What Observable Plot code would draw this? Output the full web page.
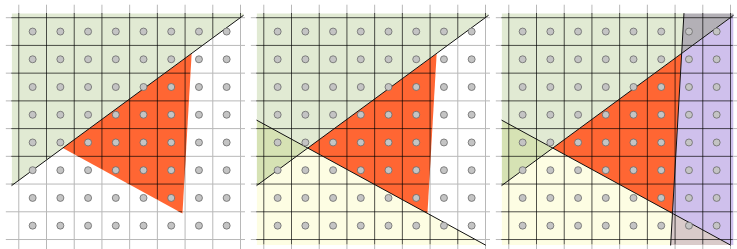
<!DOCTYPE html>
<html>
<head>
<meta charset="utf-8">
<script src="https://cdn.jsdelivr.net/npm/d3@7"></script>
<script src="https://cdn.jsdelivr.net/npm/@observablehq/plot@0.6"></script>
<style>
  body { margin: 0; background: #fff; }
  #row { display: flex; flex-direction: row; width: 737px; height: 249px; overflow: hidden; }
  #row svg { display: block; }
</style>
</head>
<body>
<div id="row"></div>
<script>
// grid line positions and point centres (data units)
const gridTicks = [0, 1, 2, 3, 4, 5, 6, 7, 8];
const pointCenters = [0.5, 1.5, 2.5, 3.5, 4.5, 5.5, 6.5, 7.5];
const gridExtent = [-0.45, 8.45];
// shaded box that the half-planes fill
const boxX = [-0.25, 8.1];
const boxY = [-0.2, 8.15];
// the three boundary lines (two points each)
const lineA = [[-0.25, 1.95], [8.1, 8.08]];
const lineB = [[-0.25, 4.30], [8.0, -0.20]];
const lineC = [[5.84, -0.20], [6.32, 8.15]];
// region colours
const colorG = "#e1ead3";
const colorY = "#fdfde3";
const colorGY = "#d6e2b4";
const colorP = "#cfc0ec";
const colorGP = "#b3b0b6";
const colorYP = "#d9cbca";
const colorRed = "#ff6633";
// panels: which lines are drawn, which cells are filled (constraints: +1 above/left, -1 below/right)
const panel1Lines = ["A"];
const panel1Cells = [[colorG, {A: 1}], [colorRed, {A: -1, B: 1, C: 1}]];
const panel2Lines = ["A", "B"];
const panel2Cells = [[colorG, {A: 1, B: 1}], [colorGY, {A: 1, B: -1}], [colorY, {A: -1, B: -1}], [colorRed, {A: -1, B: 1, C: 1}]];
const panel3Lines = ["A", "B", "C"];
const panel3Cells = [[colorG, {A: 1, B: 1, C: 1}], [colorGY, {A: 1, B: -1}], [colorY, {A: -1, B: -1, C: 1}],
  [colorP, {A: -1, B: 1, C: -1}], [colorGP, {A: 1, C: -1}], [colorYP, {B: -1, C: -1}], [colorRed, {A: -1, B: 1, C: 1}]];

const lines = {A: lineA, B: lineB, C: lineC};
const panels = [
  {lines: panel1Lines, cells: panel1Cells, width: 245},
  {lines: panel2Lines, cells: panel2Cells, width: 245},
  {lines: panel3Lines, cells: panel3Cells, width: 247}
];

function clipHalf(poly, seg, s) {
  const [p1, p2] = seg;
  const f = p => s * ((p2[0] - p1[0]) * (p[1] - p1[1]) - (p2[1] - p1[1]) * (p[0] - p1[0]));
  const out = [];
  const n = poly.length;
  for (let i = 0; i < n; i++) {
    const cur = poly[i], prev = poly[(i + n - 1) % n];
    const fc = f(cur), fp = f(prev);
    const inter = () => {
      const t = fp / (fp - fc);
      return [prev[0] + (cur[0] - prev[0]) * t, prev[1] + (cur[1] - prev[1]) * t];
    };
    if (fc >= 0) {
      if (fp < 0) out.push(inter());
      out.push(cur);
    } else if (fp >= 0) out.push(inter());
  }
  return out;
}
function cellPolygon(constraints) {
  let poly = [[boxX[0], boxY[0]], [boxX[1], boxY[0]], [boxX[1], boxY[1]], [boxX[0], boxY[1]]];
  for (const [k, s] of Object.entries(constraints)) poly = clipHalf(poly, lines[k], s);
  return poly;
}

const points = pointCenters.flatMap(x => pointCenters.map(y => ({x, y})));
const row = document.getElementById("row");

panels.forEach((panel, i) => {
  const width = panel.width;
  const xDomain = [-0.66, -0.66 + 8.84 * width / 245];
  const polys = panel.cells.map(([color, cons]) => ({color, poly: cellPolygon(cons)}));
  const marks = [
    Plot.ruleX(gridTicks, {x: d => d, y1: gridExtent[0], y2: gridExtent[1], stroke: "#b8b8b8", strokeWidth: 1}),
    Plot.ruleY(gridTicks, {y: d => d, x1: gridExtent[0], x2: gridExtent[1], stroke: "#b8b8b8", strokeWidth: 1}),
    ...polys.map(p => Plot.line(p.poly, {x: d => d[0], y: d => d[1], fill: p.color, stroke: "none", curve: "linear-closed"})),
    Plot.ruleX(gridTicks, {x: d => d, y1: gridExtent[0], y2: gridExtent[1], stroke: "#000", strokeOpacity: 0.68, strokeWidth: 1, ariaDescription: "darkgrid"}),
    Plot.ruleY(gridTicks, {y: d => d, x1: gridExtent[0], x2: gridExtent[1], stroke: "#000", strokeOpacity: 0.68, strokeWidth: 1, ariaDescription: "darkgrid"}),
    ...panel.lines.map(k => Plot.line(lines[k], {x: d => d[0], y: d => d[1], stroke: "#111", strokeWidth: 1})),
    Plot.dot(points, {x: "x", y: "y", r: 3.5, fill: "#c4c4c4", stroke: "#6a6a6a", strokeWidth: 0.8})
  ];
  const svg = Plot.plot({
    width, height: 249, margin: 0,
    style: {background: "white"},
    x: {domain: xDomain, axis: null},
    y: {domain: [-0.36, 8.62], axis: null},
    marks
  });
  const xs = svg.scale("x"), ys = svg.scale("y");
  const fx = d3.scaleLinear(xs.domain, xs.range);
  const fy = d3.scaleLinear(ys.domain, ys.range);
  const sel = d3.select(svg);
  const cp = sel.insert("defs", ":first-child").append("clipPath").attr("id", "clipdark" + i);
  polys.forEach(p => {
    cp.append("path").attr("d", "M" + p.poly.map(q => fx(q[0]) + "," + fy(q[1])).join("L") + "Z");
  });
  sel.selectAll('g[aria-description="darkgrid"]').attr("clip-path", `url(#clipdark${i})`);
  row.appendChild(svg);
});
</script>
</body>
</html>
